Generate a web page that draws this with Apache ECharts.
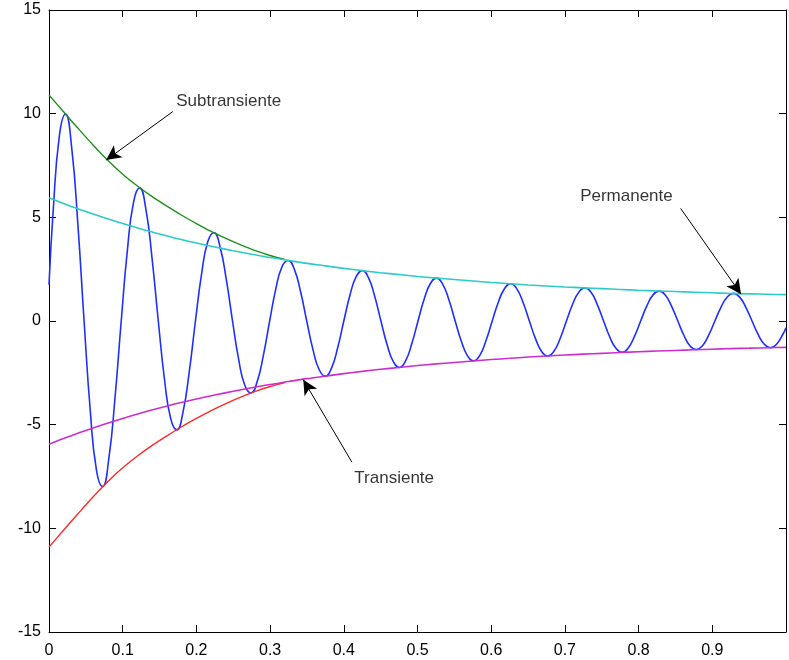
<!DOCTYPE html>
<html>
<head>
<meta charset="utf-8">
<script src="https://cdn.jsdelivr.net/npm/echarts@6/dist/echarts.min.js"></script>
<style>html,body{margin:0;padding:0;background:#fff}#c{width:789px;height:660px}</style>
</head>
<body>
<div id="c"></div>
<script>
// ---- data ----
var blueT = [0,0.0057,0.0141,0.0224,0.0308,0.0392,0.0476,0.0560,0.0644,0.0728,0.0812,0.0896,0.0980,0.1064,0.1148,0.1231,0.1315,0.1399,0.1483,0.1567,0.1651,0.1735,0.1819,0.1903,0.1987,0.2071,0.2154,0.2238,0.2322,0.2406,0.2490,0.2574,0.2658,0.2742,0.2826,0.2910,0.2994,0.3077,0.3161,0.3245,0.3329,0.3413,0.3497,0.3581,0.3665,0.3749,0.3833,0.3917,0.4000,0.4084,0.4168,0.4252,0.4336,0.4420,0.4504,0.4588,0.4672,0.4756,0.4840,0.4923,0.5007,0.5091,0.5175,0.5259,0.5343,0.5427,0.5511,0.5595,0.5679,0.5763,0.5847,0.5930,0.6014,0.6098,0.6182,0.6266,0.6350,0.6434,0.6518,0.6602,0.6686,0.6770,0.6853,0.6937,0.7021,0.7105,0.7189,0.7273,0.7357,0.7441,0.7525,0.7609,0.7693,0.7776,0.7860,0.7944,0.8028,0.8112,0.8196,0.8280,0.8364,0.8448,0.8532,0.8616,0.8699,0.8783,0.8867,0.8951,0.9035,0.9119,0.9203,0.9287,0.9371,0.9455,0.9539,0.9622,0.9706,0.9790,0.9874,0.9958,1.0];
var blueV = [1.75,5.33,8.94,9.98,8.35,4.65,0,-4.32,-7.19,-7.98,-6.63,-3.69,0,3.43,5.75,6.42,5.38,3.00,0,-2.81,-4.70,-5.25,-4.38,-2.45,0,2.29,3.82,4.26,3.56,1.99,0,-1.86,-3.11,-3.47,-2.91,-1.63,0,1.54,2.61,2.92,2.49,1.42,0,-1.37,-2.34,-2.66,-2.27,-1.29,0,1.25,2.14,2.43,2.08,1.18,0,-1.15,-1.96,-2.24,-1.91,-1.09,0,1.06,1.81,2.07,1.77,1.01,0,-0.98,-1.68,-1.92,-1.65,-0.94,0,0.92,1.57,1.80,1.54,0.88,0,-0.86,-1.48,-1.69,-1.45,-0.83,0,0.81,1.39,1.59,1.37,0.78,0,-0.77,-1.32,-1.51,-1.30,-0.74,0,0.73,1.26,1.44,1.24,0.71,0,-0.70,-1.21,-1.38,-1.19,-0.68,0,0.67,1.16,1.33,1.15,0.66,0,-0.65,-1.12,-1.29,-1.11,-0.64,-0.33];

var envT = [0,0.025,0.05,0.075,0.1,0.125,0.15,0.175,0.2,0.225,0.25,0.275,0.3,0.325,0.35,0.375,0.4,0.425,0.45,0.475,0.5,0.525,0.55,0.575,0.6,0.625,0.65,0.675,0.7,0.725,0.75,0.775,0.8,0.825,0.85,0.875,0.9,0.925,0.95,0.975,1.0];
var cyanV = [5.95,5.60,5.28,4.98,4.70,4.44,4.20,3.97,3.76,3.57,3.39,3.22,3.06,2.92,2.78,2.66,2.54,2.43,2.33,2.24,2.15,2.07,2.00,1.93,1.86,1.80,1.74,1.69,1.64,1.60,1.56,1.52,1.48,1.45,1.42,1.39,1.36,1.33,1.31,1.29,1.27];
var magentaV = [-5.95,-5.60,-5.28,-4.98,-4.70,-4.44,-4.20,-3.97,-3.76,-3.57,-3.39,-3.22,-3.06,-2.92,-2.78,-2.66,-2.54,-2.43,-2.33,-2.24,-2.15,-2.07,-2.00,-1.93,-1.86,-1.80,-1.74,-1.69,-1.64,-1.60,-1.56,-1.52,-1.48,-1.45,-1.42,-1.39,-1.36,-1.33,-1.31,-1.29,-1.27];

var subT = [0,0.02,0.04,0.06,0.08,0.10,0.12,0.14,0.16,0.18,0.20,0.22,0.24,0.26,0.28,0.30,0.32];
var greenV = [10.9,10.08,9.27,8.48,7.74,7.08,6.51,6.00,5.54,5.10,4.70,4.32,3.98,3.67,3.39,3.16,2.97];
var redV = [-10.9,-10.08,-9.27,-8.48,-7.74,-7.08,-6.51,-6.00,-5.54,-5.10,-4.70,-4.32,-3.98,-3.67,-3.39,-3.16,-2.97];

var xTicks = [0,0.1,0.2,0.3,0.4,0.5,0.6,0.7,0.8,0.9];
var yTicks = [-15,-10,-5,0,5,10,15];

var noteNames = ['Subtransiente','Permanente','Transiente'];
var noteText = [[0.172,10.61],[0.720,6.02],[0.4136,-7.57]];
var arrowFrom = [[0.168,10.1],[0.857,5.43],[0.411,-6.81]];
var arrowTo = [[0.0775,7.76],[0.939,1.29],[0.345,-2.83]];

// ---- build ----
function zip(a,b){var r=[];for(var i=0;i<a.length;i++)r.push([a[i],b[i]]);return r;}
var FONT = '"Liberation Sans", Arial, Helvetica, sans-serif';
var chart = echarts.init(document.getElementById('c'), null, {renderer:'canvas'});

function xAx(pos, labels){
  return {type:'value', position:pos, min:0, max:1, interval:0.1,
    axisLine:{show:true, onZero:false, lineStyle:{color:'#000', width:1}},
    axisTick:{show:true, inside:true, length:7, lineStyle:{color:'#000'}},
    axisLabel:{show:labels, color:'#000', fontSize:16, fontFamily:FONT, margin:11,
      formatter:function(v){ return xTicks.indexOf(Math.round(v*10)/10)>=0 ? String(Math.round(v*10)/10) : ''; }},
    splitLine:{show:false}};
}
function yAx(pos, labels){
  return {type:'value', position:pos, min:-15, max:15, interval:5,
    axisLine:{show:true, onZero:false, lineStyle:{color:'#000', width:1}},
    axisTick:{show:true, inside:true, length:7, lineStyle:{color:'#000'}},
    axisLabel:{show:labels, color:'#000', fontSize:16, fontFamily:FONT, margin:8,
      formatter:function(v){ return yTicks.indexOf(v)>=0 ? String(v) : ''; }},
    splitLine:{show:false}};
}

var arrows = [];
for (var i=0;i<arrowFrom.length;i++) arrows.push([{coord:arrowFrom[i], symbol:'none'},{coord:arrowTo[i], symbol:'arrow', symbolSize:[11,15]}]);
var notes = [];
for (var j=0;j<noteNames.length;j++) notes.push({name:noteNames[j], value:noteText[j]});

chart.setOption({
  animation:false,
  backgroundColor:'#fff',
  grid:{left:49, top:10, width:744, height:622, containLabel:false},
  xAxis:[xAx('bottom', true), xAx('top', false)],
  yAxis:[yAx('left', true), yAx('right', false)],
  series:[
    {type:'line', name:'i', data:zip(blueT,blueV), showSymbol:false, smooth:0.5,
      lineStyle:{color:'#1f2fff', width:1.6}, z:2},
    {type:'line', name:'sub+', data:zip(subT,greenV), showSymbol:false, smooth:0.3,
      lineStyle:{color:'#1f8f1f', width:1.4}, z:3},
    {type:'line', name:'sub-', data:zip(subT,redV), showSymbol:false, smooth:0.3,
      lineStyle:{color:'#ff2a2a', width:1.4}, z:3},
    {type:'line', name:'tr+', data:zip(envT,cyanV), showSymbol:false, smooth:0.3,
      lineStyle:{color:'#2ec9c9', width:1.6}, z:3},
    {type:'line', name:'tr-', data:zip(envT,magentaV), showSymbol:false, smooth:0.3,
      lineStyle:{color:'#cc2ecc', width:1.6}, z:3},
    {type:'scatter', name:'notes', data:notes, symbolSize:1, itemStyle:{color:'rgba(0,0,0,0)'}, z:5,
      label:{show:true, position:'right', distance:0, formatter:'{b}', color:'#000', fontSize:17, fontFamily:FONT},
      markLine:{silent:true, symbol:['none','arrow'], symbolSize:14, precision:4,
        itemStyle:{color:'#000'},
        lineStyle:{color:'#000', width:1, type:'solid'}, label:{show:false},
        emphasis:{disabled:true}, data:arrows}}
  ]
});
</script>
</body>
</html>
